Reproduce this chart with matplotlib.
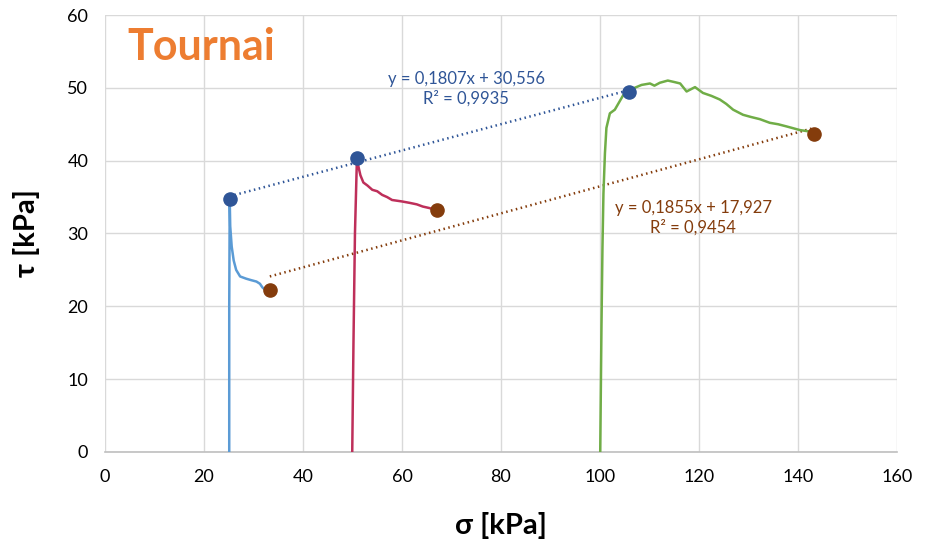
import matplotlib.pyplot as plt

# shear tests at three normal stresses: sigma [kPa] vs tau [kPa]
sigma_25 = [25.1, 25.1, 25.2, 25.3, 25.6, 26.0, 26.5, 27.3, 28.5, 29.5, 30.6, 31.3, 31.8, 32.3, 33.0]
tau_25 = [0.0, 20.0, 34.6, 31.0, 28.2, 26.3, 25.0, 24.1, 23.8, 23.6, 23.4, 23.1, 22.6, 22.3, 22.2]

sigma_50 = [49.95, 50.2, 50.5, 50.9, 51.2, 51.6, 52.2, 53.0, 54.0, 55.0, 56.0, 57.0,
            58.0, 60.0, 61.6, 63.0, 64.2, 65.5, 67.0]
tau_50 = [0.0, 15.0, 30.0, 40.4, 39.2, 38.0, 37.0, 36.6, 36.0, 35.8, 35.3, 35.0,
          34.6, 34.4, 34.2, 34.0, 33.7, 33.5, 33.2]

sigma_100 = [100.05, 100.3, 100.5, 100.7, 101.0, 101.3, 102.0, 103.0, 104.7, 105.9, 107.0, 108.4,
             110.1, 111.0, 112.1, 113.7, 115.0, 116.2, 117.5, 119.2, 120.8, 122.5,
             124.2, 125.5, 126.9, 128.9, 130.5, 132.3, 134.3, 136.0, 137.7, 140.4,
             142.4, 143.3]
tau_100 = [0.0, 17.2, 28.0, 35.5, 41.0, 44.5, 46.5, 47.0, 49.0, 49.4, 50.0, 50.4,
           50.6, 50.3, 50.7, 51.0, 50.8, 50.6, 49.5, 50.1, 49.3, 48.9,
           48.4, 47.8, 47.0, 46.3, 46.0, 45.7, 45.2, 45.0, 44.7, 44.2,
           44.0, 43.7]

# peak and residual points
peak_sigma = [25.2, 50.9, 105.9]
peak_tau = [34.7, 40.4, 49.4]
res_sigma = [33.3, 67.0, 143.3]
res_tau = [22.2, 33.2, 43.7]

# linear fits (slope, intercept, R2)
peak_fit = (0.1807, 30.556, 0.9935)
res_fit = (0.1855, 17.927, 0.9454)

blue_dark = '#2F5597'
brown = '#843C0C'
fonts = ['Lato', 'DejaVu Sans']

fig = plt.figure(figsize=(9.25, 5.46), dpi=100)
ax = fig.add_axes([0.1135, 0.1722, 0.8562, 0.8003])

ax.plot(sigma_25, tau_25, color='#5B9BD5', lw=1.8, zorder=3)
ax.plot(sigma_50, tau_50, color='#BE2F5A', lw=1.8, zorder=3)
ax.plot(sigma_100, tau_100, color='#70AD47', lw=1.8, zorder=3)

def fit_line(fit, x0, x1, color):
    a, b, _ = fit
    ax.plot([x0, x1], [a * x0 + b, a * x1 + b], color=color, lw=1.8,
            linestyle=(0, (0.6, 1.4)), zorder=2)

fit_line(peak_fit, peak_sigma[0], peak_sigma[-1], blue_dark)
fit_line(res_fit, res_sigma[0], res_sigma[-1], brown)

ax.scatter(peak_sigma, peak_tau, s=90, color=blue_dark, zorder=4)
ax.scatter(res_sigma, res_tau, s=90, color=brown, zorder=4)

def fit_label(fit, x, y, color):
    a, b, r2 = fit
    txt = 'y = {}x + {}\nR² = {}'.format(str(a).replace('.', ','),
                                         str(b).replace('.', ','),
                                         str(r2).replace('.', ','))
    ax.text(x, y, txt, color=color, fontsize=12, ha='center', va='center',
            linespacing=1.25, family=fonts)

fit_label(peak_fit, 73, 49.9, blue_dark)
fit_label(res_fit, 118.8, 32.1, brown)

ax.text(4.6, 55.6, 'Tournai', color='#ED7D31', fontsize=31, fontweight='bold',
        family=fonts, ha='left', va='center')

ax.set_xlim(0, 160)
ax.set_ylim(0, 60)
ax.set_xticks(range(0, 161, 20))
ax.set_yticks(range(0, 61, 10))
ax.grid(True, color='#D9D9D9', lw=1)
ax.set_axisbelow(True)
for s in ['top', 'right', 'left']:
    ax.spines[s].set_visible(False)
ax.spines['bottom'].set_color('#BFBFBF')
ax.spines['bottom'].set_linewidth(1.2)
ax.tick_params(length=0, labelsize=13, pad=12)
for lab in ax.get_xticklabels() + ax.get_yticklabels():
    lab.set_family(fonts)

ax.set_xlabel('σ [kPa]', fontsize=21, fontweight='bold', labelpad=20, family=fonts)
ax.set_ylabel('τ [kPa]', fontsize=21, fontweight='bold', labelpad=20, family=fonts)

fig.savefig('out.png', dpi=100, facecolor='white')
